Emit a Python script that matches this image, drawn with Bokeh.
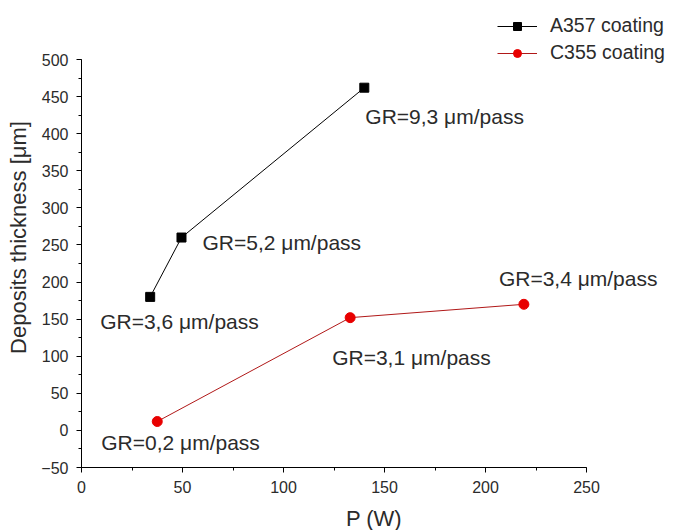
from bokeh.plotting import figure
from bokeh.models import (Label, Legend, LegendItem, SingleIntervalTicker, Range1d)
from bokeh.embed import file_html
from bokeh.resources import INLINE

# ---- data ----
a357_x = [34, 49.5, 140]
a357_y = [180, 260, 462]
a357_gr = ["GR=3,6 μm/pass", "GR=5,2 μm/pass", "GR=9,3 μm/pass"]

c355_x = [37.5, 133, 219]
c355_y = [12, 152, 170]
c355_gr = ["GR=0,2 μm/pass", "GR=3,1 μm/pass", "GR=3,4 μm/pass"]

x_axis_bounds = (0, 250)
y_axis_bounds = (-50, 500)

# label offsets in screen pixels (dx, dy; dy positive = up)
a357_off = [(-50, -25), (21, -5), (1, -29)]
c355_off = [(-56, -21), (-18, -40), (-25, 26)]

FONT = "Liberation Sans"
TXT = "#2b2b2b"

# frame geometry: axis spans 505 x 408 px; frame extended so texts are not clipped
FW, FH = 585, 460
AXW, AXH = 505, 408
x_end = x_axis_bounds[0] + (x_axis_bounds[1] - x_axis_bounds[0]) * FW / AXW
y_end = y_axis_bounds[0] + (y_axis_bounds[1] - y_axis_bounds[0]) * FH / AXH

p = figure(output_backend="svg", toolbar_location=None,
           x_range=Range1d(x_axis_bounds[0], x_end),
           y_range=Range1d(y_axis_bounds[0], y_end),
           frame_width=FW, frame_height=FH,
           min_border_left=81, min_border_top=7,
           min_border_right=0, min_border_bottom=54)
p.grid.visible = False
p.outline_line_color = None
p.background_fill_color = "white"
p.border_fill_color = "white"

p.xaxis.ticker = SingleIntervalTicker(interval=50, num_minor_ticks=2)
p.yaxis.ticker = SingleIntervalTicker(interval=50, num_minor_ticks=2)
p.xaxis.bounds = x_axis_bounds
p.yaxis.bounds = y_axis_bounds

for ax in (p.xaxis[0], p.yaxis[0]):
    ax.axis_line_color = "black"
    ax.axis_line_width = 1
    ax.major_tick_line_color = "black"
    ax.minor_tick_line_color = "black"
    ax.major_tick_in = 0
    ax.major_tick_out = 5
    ax.minor_tick_in = 0
    ax.minor_tick_out = 3
    ax.major_label_text_font = FONT
    ax.major_label_text_font_size = "16px"
    ax.major_label_text_color = TXT
    ax.axis_label_text_font = FONT
    ax.axis_label_text_font_size = "22px"
    ax.axis_label_text_font_style = "normal"
    ax.axis_label_text_color = TXT

p.xaxis.axis_label = "P (W)"
p.yaxis.axis_label = "Deposits thickness [μm]"
p.xaxis.major_label_standoff = 8
p.yaxis.major_label_standoff = 8
p.xaxis.axis_label_standoff = 10
p.yaxis.axis_label_standoff = 7

l1 = p.line(a357_x, a357_y, line_color="black", line_width=1)
s1 = p.scatter(a357_x, a357_y, marker="square", size=9, fill_color="black", line_color="black")
l2 = p.line(c355_x, c355_y, line_color="#b01818", line_width=1)
s2 = p.scatter(c355_x, c355_y, marker="circle", size=10, fill_color="#e80000", line_color="#e80000")

for xs, ys, texts, offs in ((a357_x, a357_y, a357_gr, a357_off), (c355_x, c355_y, c355_gr, c355_off)):
    for x, y, t, (dx, dy) in zip(xs, ys, texts, offs):
        p.add_layout(Label(x=x, y=y, text=t, x_offset=dx, y_offset=dy,
                           text_font=FONT, text_font_size="21px", text_color=TXT,
                           text_align="left", text_baseline="middle"))

legend = Legend(items=[LegendItem(label="A357 coating", renderers=[l1, s1]),
                       LegendItem(label="C355 coating", renderers=[l2, s2])],
                location=(416, 403),
                border_line_alpha=0, background_fill_alpha=0,
                padding=0, margin=0, spacing=4,
                glyph_width=40, glyph_height=20, label_height=20,
                label_standoff=13,
                label_text_font=FONT, label_text_font_size="19.5px",
                label_text_color=TXT)
p.add_layout(legend)

open("out.html", "w").write(file_html(p, INLINE))
